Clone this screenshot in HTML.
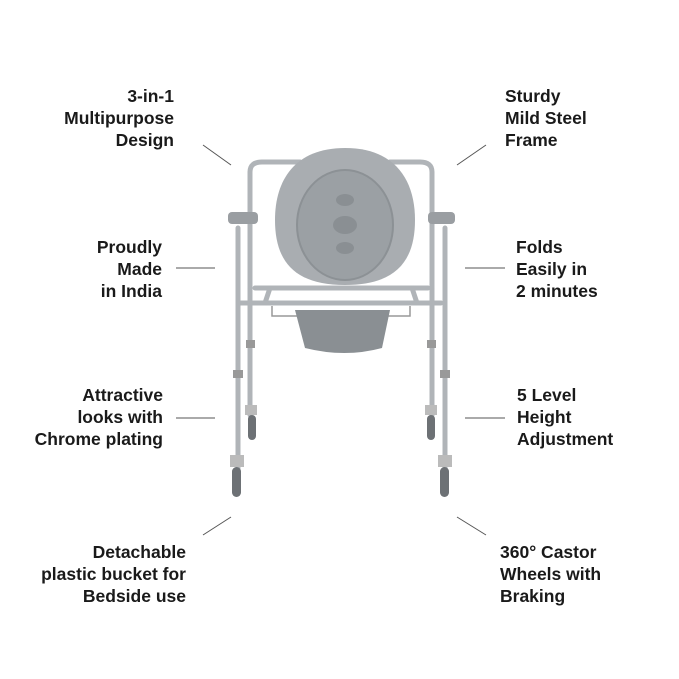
<!DOCTYPE html>
<html><head><meta charset="utf-8"><style>
body{margin:0;background:#fff;}
.w{position:relative;width:679px;height:679px;overflow:hidden;font-family:"Liberation Sans",sans-serif;font-weight:bold;font-size:17.5px;color:#1a1a1a;line-height:22px;}
.l{position:absolute;text-align:right;white-space:nowrap;}
.r{position:absolute;text-align:left;white-space:nowrap;}
</style></head><body><div class="w">
<svg width="679" height="679" style="position:absolute;left:0;top:0">
<g stroke="#555" stroke-width="1">
<line x1="203" y1="145" x2="231" y2="165"/><line x1="176" y1="268" x2="215" y2="268"/>
<line x1="176" y1="418" x2="215" y2="418"/><line x1="203" y1="535" x2="231" y2="517"/>
<line x1="457" y1="165" x2="486" y2="145"/><line x1="465" y1="268" x2="505" y2="268"/>
<line x1="465" y1="418" x2="505" y2="418"/><line x1="457" y1="517" x2="486" y2="535"/>
</g>
<g fill="none" stroke="#b0b4b8" stroke-width="5" stroke-linecap="round">
<path d="M250 290 V172 Q250 162 262 162 H300"/><path d="M390 162 H420 Q432 162 432 172 V290"/>
<line x1="250" y1="290" x2="250" y2="415"/><line x1="432" y1="290" x2="432" y2="415"/>
<line x1="238" y1="228" x2="238" y2="470"/><line x1="445" y1="228" x2="445" y2="470"/>
<line x1="240" y1="303" x2="441" y2="303"/><line x1="255" y1="288" x2="428" y2="288"/>
<line x1="270" y1="288" x2="265" y2="303"/><line x1="412" y1="288" x2="417" y2="303"/>
</g>
<path d="M272 306 V316 H410 V306" fill="none" stroke="#999" stroke-width="1.5"/>
<path d="M295 310 H390 L382 348 Q345 358 305 348 Z" fill="#8a8f93"/>
<path d="M345 148 C395 148 415 180 415 220 C415 262 395 285 345 285 C295 285 275 262 275 220 C275 180 295 148 345 148 Z" fill="#a9adb1"/>
<ellipse cx="345" cy="225" rx="48" ry="55" fill="#9ba0a4" stroke="#8c9195" stroke-width="2"/>
<ellipse cx="345" cy="225" rx="12" ry="9" fill="#8a8f93"/>
<ellipse cx="345" cy="200" rx="9" ry="6" fill="#8a8f93"/><ellipse cx="345" cy="248" rx="9" ry="6" fill="#8a8f93"/>
<rect x="228" y="212" width="30" height="12" rx="4" fill="#9a9ea2"/><rect x="428" y="212" width="27" height="12" rx="4" fill="#9a9ea2"/>
<g fill="#999"><rect x="233" y="370" width="10" height="8"/><rect x="440" y="370" width="10" height="8"/><rect x="246" y="340" width="9" height="8"/><rect x="427" y="340" width="9" height="8"/></g>
<g fill="#bbb"><rect x="245" y="405" width="12" height="10"/><rect x="425" y="405" width="12" height="10"/><rect x="230" y="455" width="14" height="12"/><rect x="438" y="455" width="14" height="12"/></g>
<g fill="#6d7175"><rect x="248" y="415" width="8" height="25" rx="4"/><rect x="427" y="415" width="8" height="25" rx="4"/>
<rect x="232" y="467" width="9" height="30" rx="4.5"/><rect x="440" y="467" width="9" height="30" rx="4.5"/></g>
</svg>
<div class="l" style="top:85px;right:505px">3-in-1<br>Multipurpose<br>Design</div>
<div class="l" style="top:236px;right:517px">Proudly<br>Made<br>in India</div>
<div class="l" style="top:384px;right:516px">Attractive<br>looks with<br>Chrome plating</div>
<div class="l" style="top:541px;right:493px">Detachable<br>plastic bucket for<br>Bedside use</div>
<div class="r" style="top:85px;left:505px">Sturdy<br>Mild Steel<br>Frame</div>
<div class="r" style="top:236px;left:516px">Folds<br>Easily in<br>2 minutes</div>
<div class="r" style="top:384px;left:517px">5 Level<br>Height<br>Adjustment</div>
<div class="r" style="top:541px;left:500px">360° Castor<br>Wheels with<br>Braking</div>
</div></body></html>
